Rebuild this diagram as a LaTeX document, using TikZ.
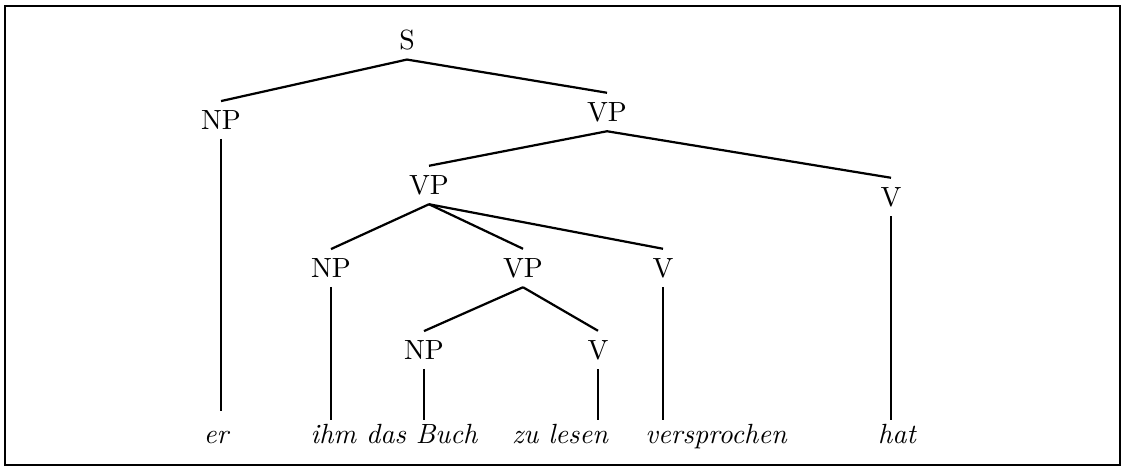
\documentclass[tikz,border=0pt]{standalone}
\usepackage{tikz}

\begin{document}
\begin{tikzpicture}[x=0.36pt, y=-0.36pt, line width=0.8pt,
    cat/.style={inner sep=3pt},
    word/.style={font=\itshape, anchor=base, inner sep=1pt}]
  \useasboundingbox (0, 0) rectangle (1124, 470);
  \draw (5, 6) rectangle (1120, 465);

  \node[cat] (s) at (407, 40) {S};
  \node[cat] (np1) at (221, 120) {NP};
  \node[cat] (vp1) at (607, 112) {VP};
  \node[cat] (vp2) at (429, 185) {VP};
  \node[cat] (v1) at (891, 197) {V};
  \node[cat] (np2) at (331, 268) {NP};
  \node[cat] (vp3) at (523, 268) {VP};
  \node[cat] (v2) at (663, 268) {V};
  \node[cat] (np3) at (424, 350) {NP};
  \node[cat] (v3) at (598, 350) {V};

  \node[word, outer ysep=6pt] (er) at (216, 443) {er};
  \node[word] (buch) at (394, 443) {ihm das Buch};
  \node[word] (lesen) at (560, 443) {zu lesen};
  \node[word] (verspr) at (716, 443) {versprochen};
  \node[word] (hat) at (897, 443) {hat};

  \draw (s.south) -- (np1.north);
  \draw (s.south) -- (vp1.north);
  \draw (vp1.south) -- (vp2.north);
  \draw (vp1.south) -- (v1.north);
  \draw (vp2.south) -- (np2.north);
  \draw (vp2.south) -- (vp3.north);
  \draw (vp2.south) -- (v2.north);
  \draw (vp3.south) -- (np3.north);
  \draw (vp3.south) -- (v3.north);

  \draw (np1.south) -- (np1.south |- er.north);
  \draw (np2.south) -- (np2.south |- buch.north);
  \draw (np3.south) -- (np3.south |- buch.north);
  \draw (v3.south) -- (v3.south |- lesen.north);
  \draw (v2.south) -- (v2.south |- verspr.north);
  \draw (v1.south) -- (v1.south |- hat.north);
\end{tikzpicture}
\end{document}
